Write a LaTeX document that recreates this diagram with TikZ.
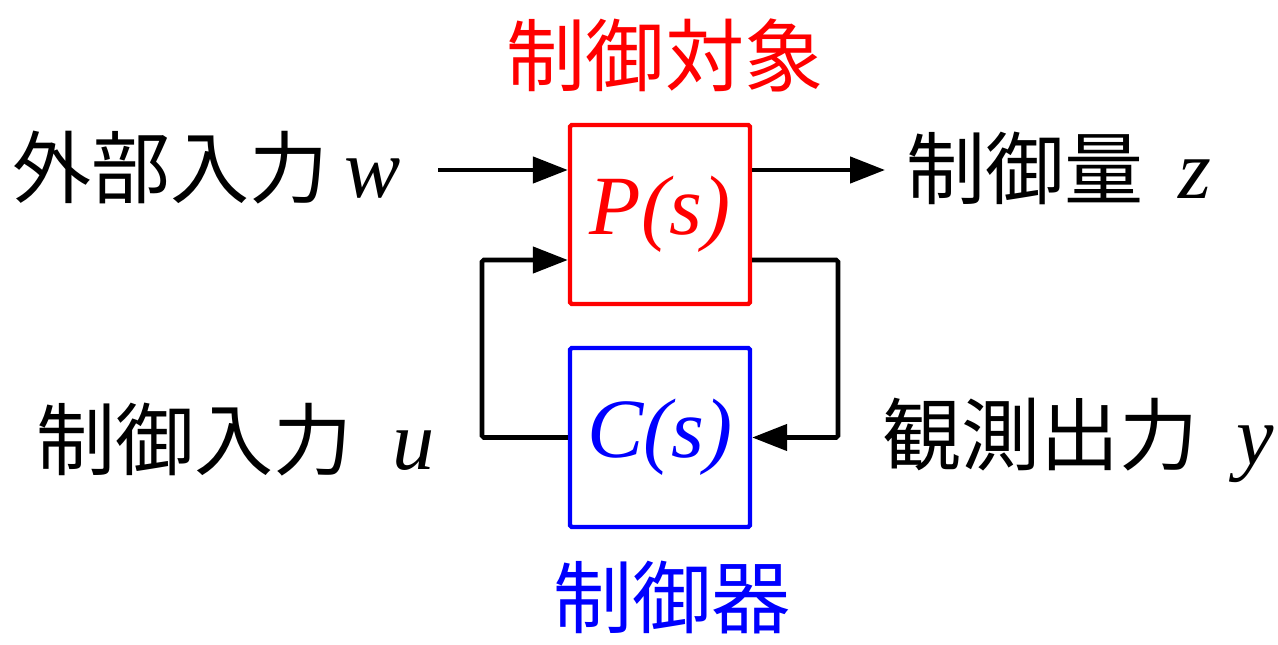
\documentclass[tikz,border=0pt]{standalone}
\usepackage{fontspec}
\setmainfont{Liberation Serif}
\newfontfamily\jp{Noto Sans CJK JP}
\usepackage{tikz}
\usetikzlibrary{arrows.meta}

\newcommand{\sv}[1]{{\fontsize{48}{52}\selectfont\textit{#1}}}

\tikzset{
  blk/.style={draw, line width=2.5pt, rounded corners=1pt, minimum width=3.6cm, minimum height=3.58cm, inner sep=0pt},
  lbl/.style={font=\fontsize{45}{50}\selectfont, inner sep=0pt},
  sig/.style={line width=2.6pt, -{Triangle[length=0.7cm,width=0.52cm]}},
}

\begin{document}
\begin{tikzpicture}[x=0.02cm, y=-0.02cm]
            \useasboundingbox (0,0) rectangle (1278,645);

            % blocks
            \node[blk, draw=red, text=red] (plant) at (660,214.5) {\sv{P(s)}};
            \node[blk, draw=blue, text=blue] (ctrl) at (660,437.5) {\sv{C(s)}};

            \node[lbl, text=red] (ptitle) at (665,55) {\jp 制御対象};
            \node[lbl, text=blue] (ctitle) at (672,597) {\jp 制御器};

            % signal labels
            \node[lbl, anchor=west] (wlbl) at (12,168) {{\jp 外部入力}\hspace{0.32cm}\sv{w}};
            \node[lbl, anchor=west] (zlbl) at (906,168) {{\jp 制御量}\hspace{0.7cm}\sv{z}};
            \node[lbl, anchor=west] (ulbl) at (36,440) {{\jp 制御入力}\hspace{0.8cm}\sv{u}};
            \node[lbl, anchor=west] (ylbl) at (882,440) {{\jp 観測出力}\hspace{0.75cm}\sv{y}};

            \coordinate (win) at (438,170);
            \coordinate (zout) at (885,170);
            \coordinate (yr) at (838,260);
            \coordinate (ul) at (482,260);

            % connectors
            \draw[sig] (win) -- (win -| plant.west);
            \draw[sig] (zout -| plant.east) -- (zout);
            \draw[sig, rounded corners=1pt] (yr -| plant.east) -- (yr) |- (ctrl.east);
            \draw[sig, rounded corners=1pt] (ctrl.west) -| (ul) -- (ul -| plant.west);
         \end{tikzpicture}
\end{document}
